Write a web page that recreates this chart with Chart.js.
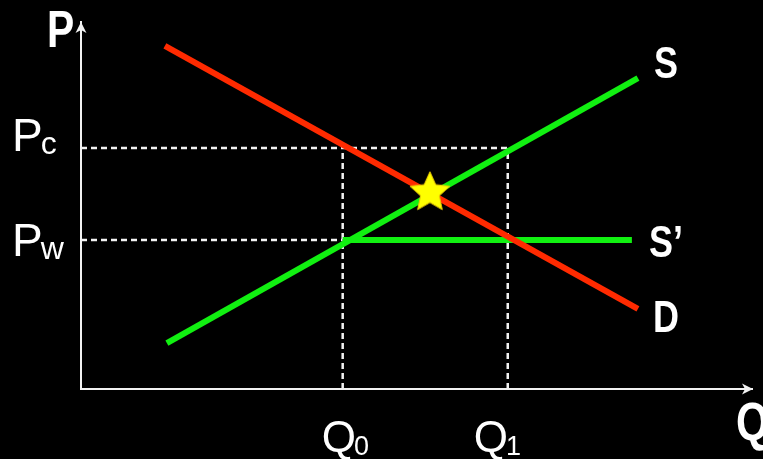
<!DOCTYPE html>
<html>
<head>
<meta charset="utf-8">
<script src="https://cdn.jsdelivr.net/npm/chart.js@4"></script>
<style>
  html, body { margin: 0; padding: 0; background: #000; }
  #wrap { width: 763px; height: 459px; }
</style>
</head>
<body>
<div id="wrap"><canvas id="priceChart" width="763" height="459"></canvas></div>
<script>
// curves (quantity on x, price on y)
const demandQ = [1.25, 8.3];
const demandP = [9.35, 2.18];
const supplyQ = [1.28, 8.3];
const supplyP = [1.25, 8.47];
const worldSupplyQ = [3.9, 8.21];
const worldSupplyP = [4.06, 4.06];

// reference levels and their tick labels [main, subscript]
const priceLevels = [6.57, 4.06];
const priceTickLabels = [["P", "c"], ["P", "w"]];
const quantityLevels = [3.9, 6.36];
const quantityTickLabels = [["Q", "0"], ["Q", "1"]];

const equilibrium = [5.2, 5.35];
const curveLabels = ["S", "S\u2019", "D"];
const axisTitles = ["Q", "P"];

const RED = "#ff2a00";
const GREEN = "#11f011";
const WHITE = "#f2f2f2";
const BOLD = "'Liberation Sans', Arial, sans-serif";

function pts(xs, ys) {
  return xs.map((x, i) => ({ x: x, y: ys[i] }));
}

// filled yellow star used as the point style
function makeStar(r) {
  const c = document.createElement("canvas");
  c.width = c.height = r * 2 + 4;
  const g = c.getContext("2d");
  const cx = r + 2, cy = r + 2;
  g.beginPath();
  for (let i = 0; i < 10; i++) {
    const rad = i % 2 === 0 ? r : r * 0.47;
    const a = -Math.PI / 2 + i * Math.PI / 5;
    g.lineTo(cx + rad * Math.cos(a), cy + rad * Math.sin(a));
  }
  g.closePath();
  g.fillStyle = "#ffff00";
  g.fill();
  g.strokeStyle = "#e8c800";
  g.lineWidth = 1;
  g.stroke();
  return c;
}

// bold text squeezed sideways, the font has no narrow cut here
function narrowText(ctx, text, x, y, size) {
  ctx.save();
  ctx.translate(x, y);
  ctx.scale(0.8, 1);
  ctx.font = "bold " + size + "px " + BOLD;
  ctx.fillText(text, 0, 0);
  ctx.restore();
}

const [pc, pw] = priceLevels;
const [q0, q1] = quantityLevels;

const dashed = {
  borderColor: WHITE,
  borderWidth: 2.5,
  borderDash: [6, 4],
  pointRadius: 0,
  showLine: true,
  order: 5
};

const labelPlugin = {
  id: "labels",
  afterDraw(chart) {
    const ctx = chart.ctx;
    const xs = chart.scales.x, ys = chart.scales.y;
    const area = chart.chartArea;
    ctx.save();

    // arrowheads on the axes
    ctx.fillStyle = WHITE;
    const ax = xs.getPixelForValue(0), ay = area.top;
    ctx.beginPath();
    ctx.moveTo(ax, ay);
    ctx.lineTo(ax + 5.5, ay + 11);
    ctx.lineTo(ax, ay + 8);
    ctx.lineTo(ax - 5.5, ay + 11);
    ctx.closePath();
    ctx.fill();
    const bx = area.right + 1, by = ys.getPixelForValue(0);
    ctx.beginPath();
    ctx.moveTo(bx, by);
    ctx.lineTo(bx - 11, by - 5.5);
    ctx.lineTo(bx - 8, by);
    ctx.lineTo(bx - 11, by + 5.5);
    ctx.closePath();
    ctx.fill();

    // axis titles
    ctx.fillStyle = "#ffffff";
    ctx.textBaseline = "alphabetic";
    ctx.textAlign = "left";
    narrowText(ctx, axisTitles[1], ax - 34, area.top + 25, 51);
    narrowText(ctx, axisTitles[0], area.right - 16, by + 51, 53);

    // price tick labels
    const pOff = [3, 16];
    priceLevels.forEach((v, i) => {
      const y = ys.getPixelForValue(v) + pOff[i];
      ctx.font = "46px 'Liberation Sans', Arial, sans-serif";
      ctx.fillText(priceTickLabels[i][0], 12, y);
      const w = ctx.measureText(priceTickLabels[i][0]).width;
      ctx.font = "32px 'Liberation Sans', Arial, sans-serif";
      ctx.fillText(priceTickLabels[i][1], 12 + w - 2, y + 3);
    });

    // quantity tick labels
    const qOff = [-21, -34];
    quantityLevels.forEach((v, i) => {
      const x = xs.getPixelForValue(v) + qOff[i];
      const y = by + 63;
      ctx.font = "44px 'Liberation Sans', Arial, sans-serif";
      ctx.fillText(quantityTickLabels[i][0], x, y);
      const w = ctx.measureText(quantityTickLabels[i][0]).width;
      ctx.font = "27px 'Liberation Sans', Arial, sans-serif";
      ctx.fillText(quantityTickLabels[i][1], x + w - 2, y + 3);
    });

    // curve labels next to the line ends
    const ends = [
      [supplyQ[1], supplyP[1], 16, 0],
      [worldSupplyQ[1], worldSupplyP[1], 17, 17],
      [demandQ[1], demandP[1], 15, 23]
    ];
    ends.forEach((e, i) => {
      const x = xs.getPixelForValue(e[0]) + e[2];
      const y = ys.getPixelForValue(e[1]) + e[3];
      narrowText(ctx, curveLabels[i], x, y, 45);
    });

    ctx.restore();
  }
};

new Chart(document.getElementById("priceChart"), {
  type: "scatter",
  data: {
    datasets: [
      {
        label: "equilibrium",
        data: [{ x: equilibrium[0], y: equilibrium[1] }],
        pointStyle: makeStar(21),
        pointRadius: 21,
        order: 0
      },
      {
        label: "S'",
        data: pts(worldSupplyQ, worldSupplyP),
        showLine: true, borderColor: GREEN, borderWidth: 6, pointRadius: 0,
        order: 2
      },
      {
        label: "D",
        data: pts(demandQ, demandP),
        showLine: true, borderColor: RED, borderWidth: 6, pointRadius: 0,
        order: 1
      },
      {
        label: "S",
        data: pts(supplyQ, supplyP),
        showLine: true, borderColor: GREEN, borderWidth: 6, pointRadius: 0,
        order: 3
      },
      Object.assign({ label: "Pc", data: [{ x: 0, y: pc }, { x: q1, y: pc }] }, dashed),
      Object.assign({ label: "Pw", data: [{ x: 0, y: pw }, { x: q0, y: pw }] }, dashed),
      Object.assign({ label: "Q0", data: [{ x: q0, y: 0 }, { x: q0, y: pc }] }, dashed),
      Object.assign({ label: "Q1", data: [{ x: q1, y: 0 }, { x: q1, y: pc }] }, dashed)
    ]
  },
  options: {
    responsive: false,
    animation: false,
    devicePixelRatio: 1,
    layout: { autoPadding: false, padding: { left: 81, right: 11, top: 22, bottom: 70 } },
    plugins: {
      legend: { display: false },
      tooltip: { enabled: false }
    },
    scales: {
      x: {
        type: "linear", min: 0, max: 10,
        grid: { display: false, drawTicks: false },
        ticks: { display: false },
        border: { color: WHITE, width: 2 }
      },
      y: {
        type: "linear", min: 0, max: 10,
        grid: { display: false, drawTicks: false },
        ticks: { display: false },
        border: { color: WHITE, width: 2 }
      }
    }
  },
  plugins: [labelPlugin]
});
</script>
</body>
</html>
